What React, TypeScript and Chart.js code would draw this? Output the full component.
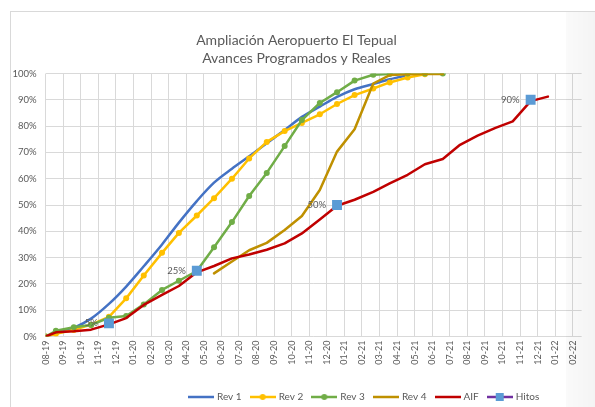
import { useEffect, useRef } from 'react';
import { Chart, registerables } from 'chart.js';

Chart.register(...registerables);

// ---- Data ----
const titleLines = ['Ampliación Aeropuerto El Tepual', 'Avances Programados y Reales'];

const monthLabels = [
  '08-19', '09-19', '10-19', '11-19', '12-19', '01-20', '02-20', '03-20', '04-20', '05-20',
  '06-20', '07-20', '08-20', '09-20', '10-20', '11-20', '12-20', '01-21', '02-21', '03-21',
  '04-21', '05-21', '06-21', '07-21', '08-21', '09-21', '10-21', '11-21', '12-21', '01-22', '02-22',
];

const yTicks = [0, 10, 20, 30, 40, 50, 60, 70, 80, 90, 100];

const reportDates = [
  '2019-08-01', '2019-08-19', '2019-09-19', '2019-10-19', '2019-11-19', '2019-12-19',
  '2020-01-19', '2020-02-19', '2020-03-19', '2020-04-19', '2020-05-19', '2020-06-19',
  '2020-07-19', '2020-08-19', '2020-09-19', '2020-10-19', '2020-11-19', '2020-12-19',
  '2021-01-19', '2021-02-19', '2021-03-19', '2021-04-19', '2021-05-19', '2021-06-19',
  '2021-07-19', '2021-08-19', '2021-09-19', '2021-10-19', '2021-11-19', '2021-12-19',
];

const rev1 = [0, 1.2, 3.3, 6.8, 12.4, 19.0, 26.7, 35.0, 43.3, 51.5, 58.5, 63.8, 68.5, 73.5, 78.5, 83.5, 87.4, 91.1, 94.0, 96.0, 97.8, 99.3];
const rev2 = [0, 1.0, 2.5, 4.5, 7.5, 14.5, 23.2, 31.8, 39.4, 46.0, 52.6, 60.0, 67.7, 74.0, 78.1, 81.2, 84.5, 88.4, 91.8, 94.3, 96.6, 98.5, 99.7];
const rev3 = [0, 2.2, 3.5, 4.4, 7.1, 7.8, 12.2, 17.7, 21.2, 24.9, 33.9, 43.5, 53.4, 62.2, 72.4, 82.3, 88.8, 92.9, 97.3, 99.5, 99.8, 100, 100, 100];
const rev4 = [null, null, null, null, null, null, null, null, null, null, 24.0, 28.5, 32.8, 35.6, 40.5, 45.8, 55.7, 70.3, 78.8, 96.2, 99.4, 99.7, 99.8, 99.8];
const aif = [0, 1.6, 2.0, 2.6, 4.6, 7.0, 12.0, 15.8, 19.2, 24.4, 26.8, 29.7, 31.2, 33.0, 35.4, 39.2, 44.5, 49.7, 52.0, 55.0, 58.2, 61.5, 65.5, 67.5, 72.9, 76.4, 79.3, 81.8, 89.5, 91.2];
const hitos = [null, null, null, null, 5, null, null, null, null, 25, null, null, null, null, null, null, null, 50, null, null, null, null, null, null, null, null, null, null, 90];

const seriesNames = ['Rev 1', 'Rev 2', 'Rev 3', 'Rev 4', 'AIF', 'Hitos'];
const seriesColors = ['#4472C4', '#FFC000', '#70AD47', '#BF9000', '#C00000', '#7030A0'];
const hitoMarkerColor = '#5B9BD5';

// ---- Helpers ----
const [m0, y0] = monthLabels[0].split('-').map(Number);
function dateToAxis(d: string): number {
  const [y, m, day] = d.split('-').map(Number);
  const dim = new Date(y, m, 0).getDate();
  return (y - (2000 + y0)) * 12 + (m - m0) + (day - 1) / dim;
}
function toPoints(values: (number | null)[]) {
  const pts: { x: number; y: number }[] = [];
  values.forEach((v, k) => {
    if (v !== null && v !== undefined) pts.push({ x: dateToAxis(reportDates[k]), y: v });
  });
  return pts;
}

const FONT = 'Lato, "Liberation Sans", sans-serif';
const TEXT = '#595959';

function makeLegendIcon(color: string, marker: 'none' | 'circle' | 'square', markerColor?: string) {
  const c = document.createElement('canvas');
  c.width = 26;
  c.height = 10;
  const g = c.getContext('2d')!;
  g.strokeStyle = color;
  g.lineWidth = 2.5;
  g.beginPath();
  g.moveTo(0, 5);
  g.lineTo(26, 5);
  g.stroke();
  if (marker === 'circle') {
    g.fillStyle = markerColor || color;
    g.beginPath();
    g.arc(13, 5, 3, 0, Math.PI * 2);
    g.fill();
  } else if (marker === 'square') {
    g.fillStyle = markerColor || color;
    g.fillRect(9, 1, 8, 8);
  }
  return c;
}

export default function App() {
  const ref = useRef<HTMLCanvasElement | null>(null);

  useEffect(() => {
    if (!ref.current) return;

    const icons = [
      makeLegendIcon(seriesColors[0], 'none'),
      makeLegendIcon(seriesColors[1], 'circle'),
      makeLegendIcon(seriesColors[2], 'circle'),
      makeLegendIcon(seriesColors[3], 'none'),
      makeLegendIcon(seriesColors[4], 'none'),
      makeLegendIcon(seriesColors[5], 'square', hitoMarkerColor),
    ];

    const hitoLabels = {
      id: 'hitoLabels',
      afterDatasetsDraw(chart: any) {
        const meta = chart.getDatasetMeta(5);
        const data = chart.data.datasets[5].data as { x: number; y: number }[];
        const ctx = chart.ctx;
        ctx.save();
        ctx.font = `9.5px ${FONT}`;
        ctx.fillStyle = TEXT;
        ctx.textAlign = 'right';
        ctx.textBaseline = 'middle';
        meta.data.forEach((pt: any, i: number) => {
          ctx.fillText(`${data[i].y}%`, pt.x - 11, pt.y);
        });
        ctx.restore();
      },
    };

    const legendShift = {
      id: 'legendShift',
      beforeDraw(chart: any) {
        if (chart.legend) chart.legend.left = 180;
      },
    };

    const lineBase = {
      borderWidth: 2.5,
      borderJoinStyle: 'round' as const,
      borderCapStyle: 'round' as const,
      fill: false,
    };

    const chart = new Chart(ref.current, {
      type: 'line',
      data: {
        datasets: [
          { ...lineBase, label: seriesNames[0], data: toPoints(rev1), borderColor: seriesColors[0], backgroundColor: seriesColors[0], pointRadius: 0, tension: 0.4, cubicInterpolationMode: 'monotone', order: 5 },
          { ...lineBase, label: seriesNames[1], data: toPoints(rev2), borderColor: seriesColors[1], backgroundColor: seriesColors[1], pointRadius: 3, pointBorderWidth: 0, pointBackgroundColor: seriesColors[1], order: 4 },
          { ...lineBase, label: seriesNames[2], data: toPoints(rev3), borderColor: seriesColors[2], backgroundColor: seriesColors[2], pointRadius: 3, pointBorderWidth: 0, pointBackgroundColor: seriesColors[2], order: 3 },
          { ...lineBase, label: seriesNames[3], data: toPoints(rev4), borderColor: seriesColors[3], backgroundColor: seriesColors[3], pointRadius: 0, order: 2 },
          { ...lineBase, label: seriesNames[4], data: toPoints(aif), borderColor: seriesColors[4], backgroundColor: seriesColors[4], pointRadius: 0, order: 1 },
          { ...lineBase, label: seriesNames[5], data: toPoints(hitos), borderColor: seriesColors[5], backgroundColor: hitoMarkerColor, showLine: false, pointStyle: 'rect', pointRadius: 7, pointBorderWidth: 0, pointBackgroundColor: hitoMarkerColor, order: 0 },
        ] as any,
      },
      options: {
        animation: false,
        responsive: false,
        devicePixelRatio: 1,
        layout: { padding: { left: 11.4, right: 13.4, top: 0, bottom: -5 } },
        plugins: {
          title: {
            display: true,
            text: titleLines,
            color: TEXT,
            font: { family: FONT, size: 14, weight: 'normal', lineHeight: 18 / 14 },
            padding: { top: 31, bottom: 6.5 },
          },
          legend: {
            display: true,
            position: 'bottom',
            align: 'start',
            labels: {
              usePointStyle: true,
              pointStyleWidth: 22,
              boxHeight: 10,
              padding: 10,
              color: TEXT,
              font: { family: FONT, size: 10 },
              sort: (a: any, b: any) => a.datasetIndex - b.datasetIndex,
              generateLabels: (chart: any) => {
                const items = (Chart.defaults.plugins.legend.labels as any).generateLabels(chart);
                items.forEach((it: any) => {
                  it.pointStyle = icons[it.datasetIndex];
                  it.fontColor = TEXT;
                });
                return items;
              },
            },
          },
          tooltip: { enabled: false },
        },
        scales: {
          x: {
            type: 'linear',
            min: 0,
            max: 30.5,
            grid: { color: '#d9d9d9', lineWidth: 1, drawTicks: false },
            border: { display: false },
            afterBuildTicks: (scale: any) => {
              scale.ticks = monthLabels.map((_, i) => ({ value: i }));
            },
            afterFit: (scale: any) => {
              scale.height = 45.5;
            },
            ticks: {
              autoSkip: false,
              minRotation: 90,
              maxRotation: 90,
              padding: 4,
              color: TEXT,
              font: { family: FONT, size: 9 },
              callback: (v: any) => monthLabels[v as number] ?? '',
            },
          },
          y: {
            min: 0,
            max: 100,
            grid: { color: '#d9d9d9', lineWidth: 1, drawTicks: false },
            border: { display: false },
            afterBuildTicks: (scale: any) => {
              scale.ticks = yTicks.map((v) => ({ value: v }));
            },
            afterFit: (scale: any) => {
              scale.width = 34.3;
            },
            ticks: {
              padding: 9,
              color: TEXT,
              font: { family: FONT, size: 9.5 },
              callback: (v: any) => `${v}%`,
            },
          },
        },
      } as any,
      plugins: [hitoLabels, legendShift],
    });

    return () => chart.destroy();
  }, []);

  return (
    <div style={{ position: 'fixed', left: 0, top: 0, width: 595, height: 407, background: '#fff', overflow: 'hidden' }}>
      <div style={{ position: 'absolute', left: 10, top: 11, width: 620, height: 430, border: '1px solid #d9d9d9' }} />
      <canvas ref={ref} width={595} height={407} style={{ position: 'absolute', left: 0, top: 0 }} />
      <div style={{ position: 'absolute', left: 566, top: 12, width: 29, height: 395, background: 'linear-gradient(to right, rgba(0,0,0,0.02), rgba(0,0,0,0.045))', pointerEvents: 'none' }} />
    </div>
  );
}
